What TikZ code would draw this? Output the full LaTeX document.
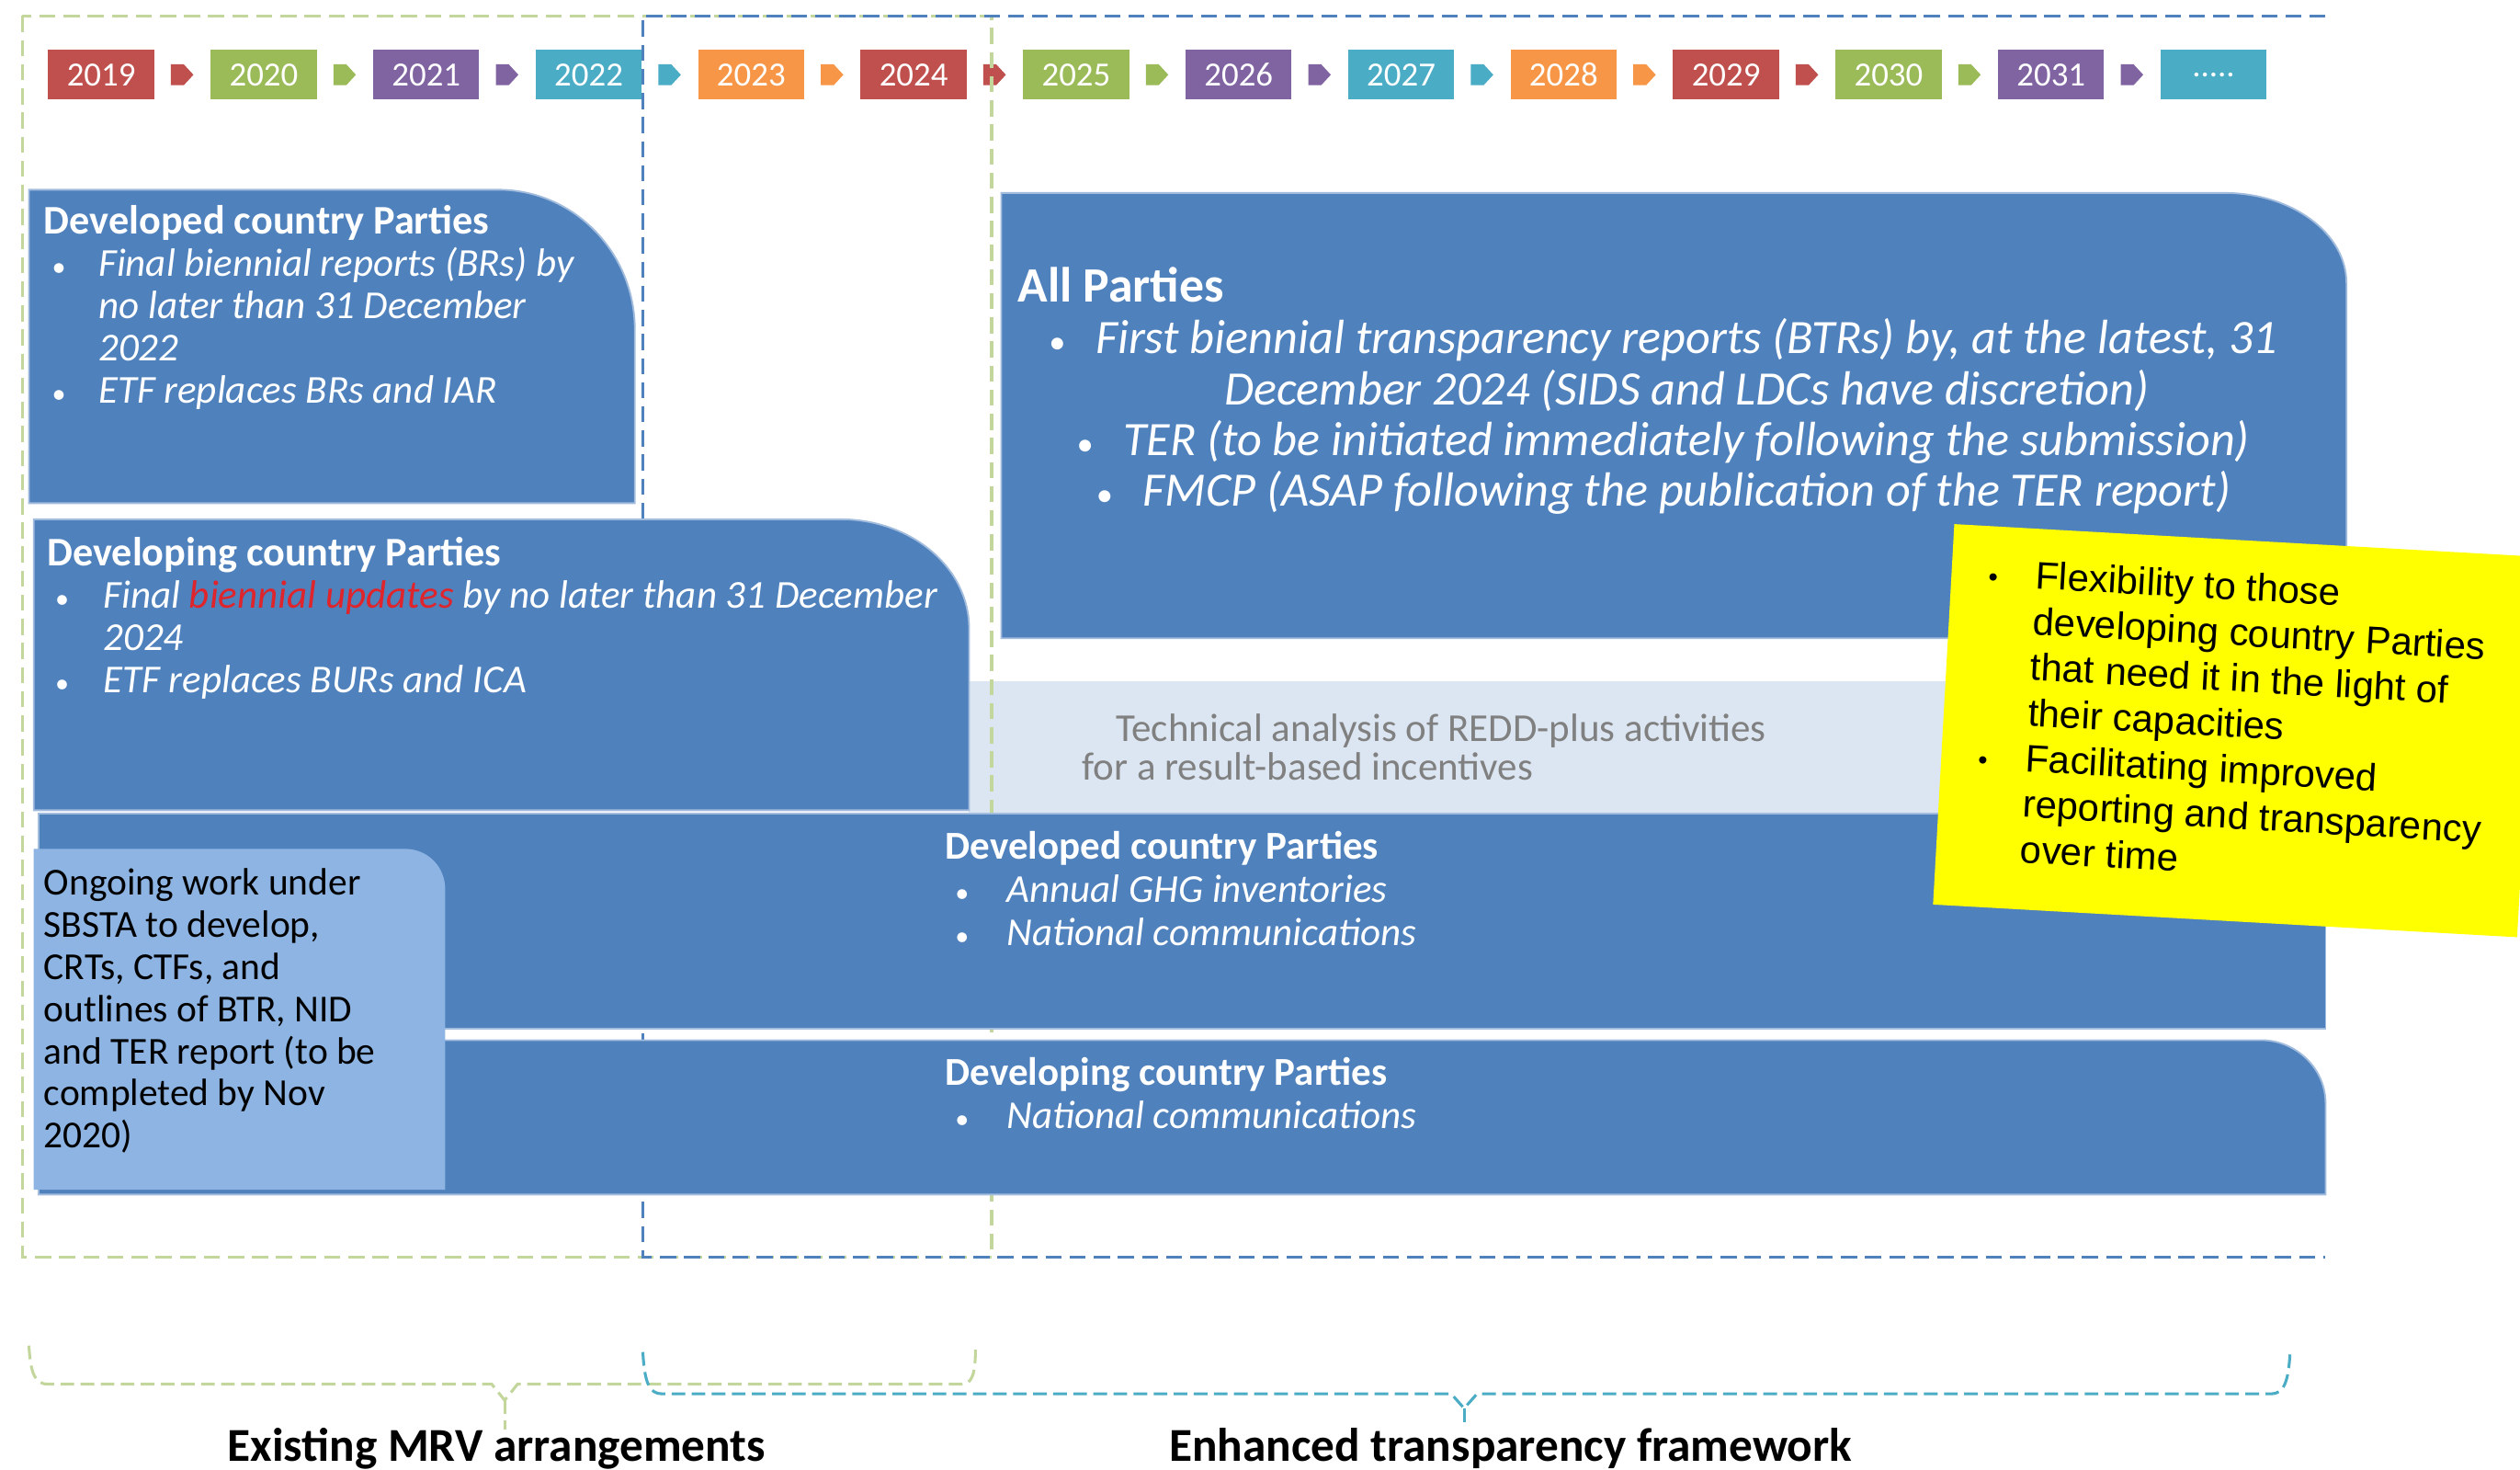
\documentclass[tikz,border=0pt]{standalone}
\usepackage{fontspec}
\setmainfont{Carlito}
\newfontfamily\notefont{Liberation Sans}
\usetikzlibrary{calc}

\definecolor{tlred}{HTML}{C0504D}
\definecolor{tlgreen}{HTML}{9BBB59}
\definecolor{tlpurple}{HTML}{8064A2}
\definecolor{tlaqua}{HTML}{4BACC6}
\definecolor{tlorange}{HTML}{F79646}
\definecolor{boxblue}{HTML}{4F81BD}
\definecolor{boxline}{HTML}{A2BCDD}
\definecolor{ongoing}{HTML}{8DB4E2}
\definecolor{bandgrey}{HTML}{DCE6F2}
\definecolor{mrvgreen}{HTML}{C3D69B}
\definecolor{etfblue}{HTML}{4F81BD}
\definecolor{notey}{HTML}{FFFF00}
\definecolor{greytext}{HTML}{808080}
\definecolor{bured}{HTML}{E0242B}

\newcommand{\bul}[1][0.58cm]{\makebox[#1][l]{\scalebox{0.7}{\textbullet}}}

\tikzset{
  yearbox/.style={minimum width=1.32cm, minimum height=0.62cm, inner sep=0pt,
    text=white, font=\fontsize{12}{12}\selectfont},
  bluebox/.style={fill=boxblue, draw=boxline, line width=0.6pt},
  boxtext/.style={text=white, align=left, inner sep=0pt, anchor=base west,
    font=\fontsize{14}{15}\selectfont},
  mrvdash/.style={draw=mrvgreen, line width=1.1pt, dash pattern=on 0.2cm off 0.1cm},
  etfdash/.style={draw=etfblue, line width=1.1pt, dash pattern=on 0.2cm off 0.1cm},
  bracepath/.style={line width=1pt, dash pattern=on 0.17cm off 0.08cm},
  lbl/.style={anchor=base, inner sep=0pt, font=\fontsize{16.7}{18}\selectfont\bfseries},
}

\begin{document}
\begin{tikzpicture}[x=0.02cm, y=-0.02cm]
\useasboundingbox (0,0) rectangle (1568,914);
\fill[white] (0,0) rectangle (1568,914);

% REDD-plus band
\fill[bandgrey] (603,424) rectangle (1447,506);

% timeline
\foreach \i/\yr/\col in {0/2019/tlred, 1/2020/tlgreen, 2/2021/tlpurple, 3/2022/tlaqua,
    4/2023/tlorange, 5/2024/tlred, 6/2025/tlgreen, 7/2026/tlpurple, 8/2027/tlaqua,
    9/2028/tlorange, 10/2029/tlred, 11/2030/tlgreen, 12/2031/tlpurple} {
  \node[yearbox, fill=\col] (y\yr) at ({63+101.1*\i},46.5) {\yr};
  \fill[\col] ($(y\yr.east)+(10,-6.5)$) -- ++(8,0) -- ++(6,6.5) -- ++(-6,6.5) -- ++(-8,0) -- cycle;
}
\node[yearbox, fill=tlaqua] (ymore) at ({63+101.1*13},46.5) {.....};

% existing MRV frame
\draw[mrvdash] (14,10) rectangle (617,782);
% ETF frame
\draw[etfdash] (1447,10) -- (400,10) -- (400,782) -- (1447,782);

% developed country Parties (BRs)
\path[bluebox] (18,118) -- (310,118) .. controls (357,118) and (395,157) .. (395,205)
  -- (395,313) -- (18,313) -- cycle;
\node[boxtext] (devd) at (27,251) {{\fontsize{14.4}{15}\selectfont\bfseries Developed country Parties}\\
  \hspace*{0.1cm}\bul\textit{Final biennial reports (BRs) by}\\
  \hspace*{0.68cm}\textit{no later than 31 December}\\
  \hspace*{0.68cm}\textit{2022}\\
  \hspace*{0.1cm}\bul\textit{ETF replaces BRs and IAR}};

% developing country Parties (BURs)
\path[bluebox] (21,323) -- (523,323) .. controls (567,323) and (603,353) .. (603,391)
  -- (603,504) -- (21,504) -- cycle;
\node[boxtext] (devg) at (29,431) {{\fontsize{14.4}{15}\selectfont\bfseries Developing country Parties}\\
  \hspace*{0.1cm}\bul[0.6cm]\textit{Final \textcolor{bured}{biennial updates} by no later than 31 December}\\
  \hspace*{0.7cm}\textit{2024}\\
  \hspace*{0.1cm}\bul[0.6cm]\textit{ETF replaces BURs and ICA}};

% all Parties
\path[bluebox] (623,120) -- (1384,120) .. controls (1426,120) and (1460,145) .. (1460,176)
  -- (1460,397) -- (623,397) -- cycle;
\node[text=white, anchor=base west, inner sep=0pt, font=\fontsize{17.5}{18}\selectfont\bfseries]
  (allh) at (633,188) {All Parties};
\node[text=white, anchor=base, align=center, inner sep=0pt, font=\fontsize{17}{18}\selectfont]
  (allp) at (1035,315) {\bul\textit{First biennial transparency reports (BTRs) by, at the latest, 31}\\
  \hphantom{\bul}\textit{December 2024 (SIDS and LDCs have discretion)}\\
  \bul\textit{TER (to be initiated immediately following the submission)}\\
  \bul\textit{FMCP (ASAP following the publication of the TER report)}};

% REDD-plus text
\node[boxtext, text=greytext, font=\fontsize{14}{13.6}\selectfont] (redd) at (673,485)
  {\hspace*{0.42cm}Technical analysis of REDD-plus activities\\for a result-based incentives};

% developed country Parties (inventories)
\path[bluebox] (24,506) rectangle (1447,640);
\node[boxtext, font=\fontsize{14}{15.3}\selectfont] (devdinv) at (588,588) {\textbf{Developed country Parties}\\
  \hspace*{0.12cm}\bul[0.64cm]\textit{Annual GHG inventories}\\
  \hspace*{0.12cm}\bul[0.64cm]\textit{National communications}};

% developing country Parties (NCs)
\path[bluebox] (24,647) -- (1407,647) .. controls (1429,647) and (1447,665) .. (1447,686)
  -- (1447,743) -- (24,743) -- cycle;
\node[boxtext, font=\fontsize{14}{15.3}\selectfont] (devgnc) at (588,702) {\textbf{Developing country Parties}\\
  \hspace*{0.12cm}\bul[0.64cm]\textit{National communications}};

% ongoing work
\fill[ongoing] (21,528) -- (252,528) .. controls (266,528) and (277,539) .. (277,553)
  -- (277,740) -- (21,740) -- cycle;
\node[boxtext, text=black, font=\fontsize{13.5}{14.9}\selectfont] (sbsta) at (27,714)
  {Ongoing work under\\SBSTA to develop,\\CRTs, CTFs, and\\outlines of BTR, NID\\
   and TER report (to be\\completed by Nov\\2020)};

% flexibility note
\begin{scope}
\clip (0,0) rectangle (1568,914);
\fill[notey, rotate around={-3.2:(1216,326)}] (1216,326) rectangle ++(364,237);
\node[anchor=base west, align=left, inner sep=0pt, rotate=-3.2,
  font=\notefont\fontsize{13.6}{16.2}\selectfont] (flex) at (1227,535)
  {\bul[0.59cm]Flexibility to those\\
   \hspace*{0.59cm}developing country Parties\\
   \hspace*{0.59cm}that need it in the light of\\
   \hspace*{0.59cm}their capacities\\
   \bul[0.59cm]Facilitating improved\\
   \hspace*{0.59cm}reporting and transparency\\
   \hspace*{0.59cm}over time};
\end{scope}

% existing MRV brace
\draw[bracepath, mrvgreen] (18,837) .. controls (19,855) and (22,861) .. (30,861) -- (306,861)
  -- (314,871) -- (322,861) -- (598,861) .. controls (605,861) and (607,855) .. (607,837);
\draw[bracepath, mrvgreen] (314,871) -- (314,889);
\node[lbl] (mrvlbl) at (309,909) {Existing MRV arrangements};

% ETF brace
\draw[bracepath, tlaqua] (400,841) .. controls (401,860) and (404,867) .. (412,867) -- (903,867)
  -- (911,876) -- (919,867) -- (1413,867) .. controls (1421,867) and (1424,860) .. (1425,840);
\draw[bracepath, tlaqua] (911,876) -- (911,885);
\node[lbl] (etflbl) at (940,909) {Enhanced transparency framework};
\end{tikzpicture}
\end{document}
